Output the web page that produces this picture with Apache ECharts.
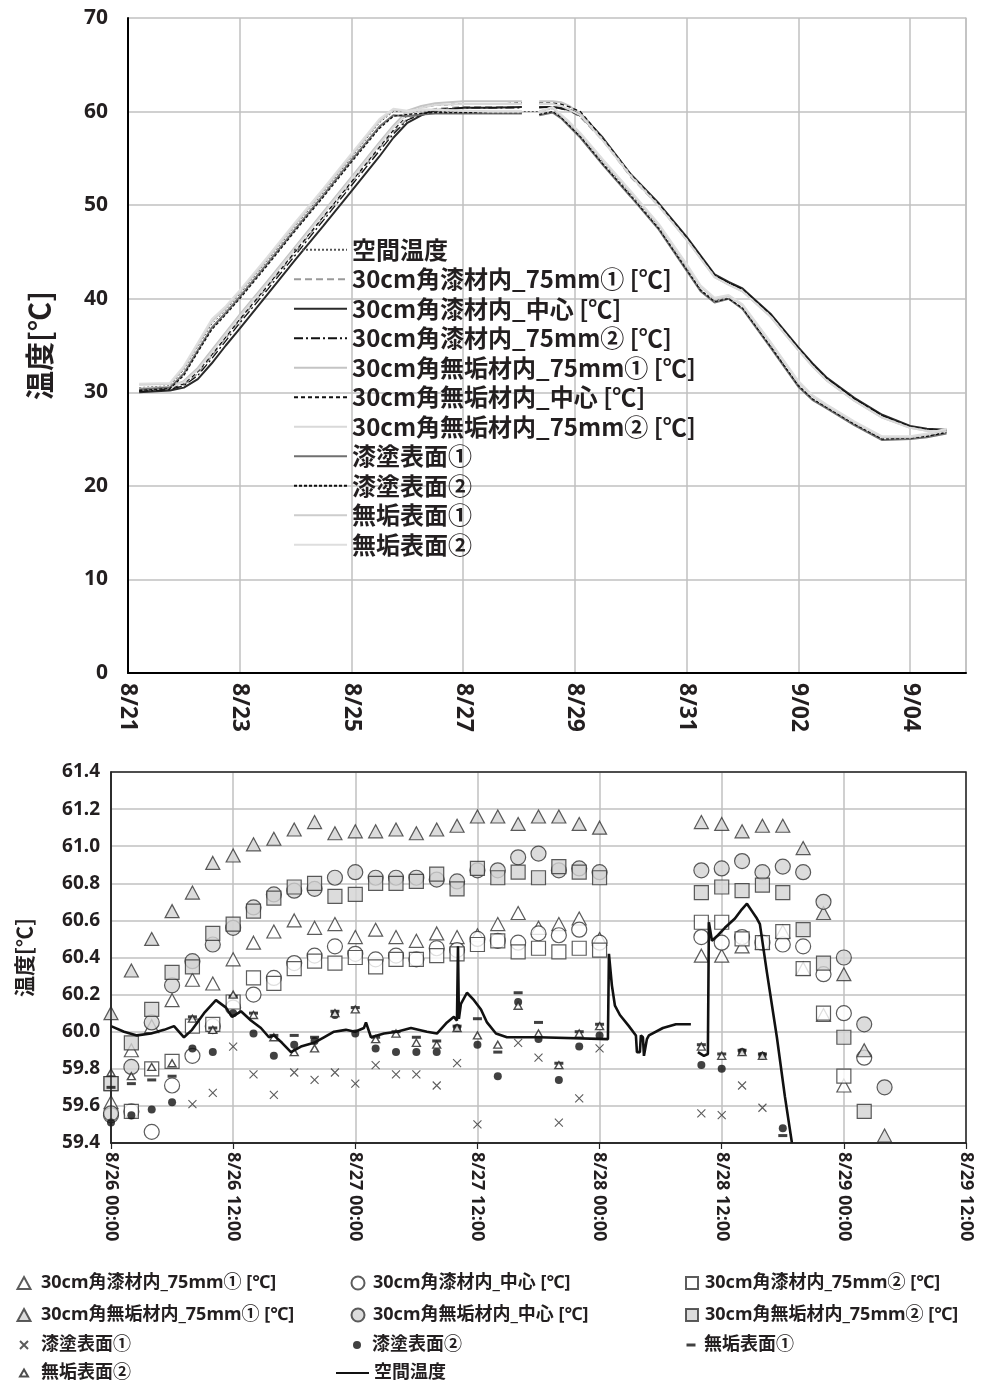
<!DOCTYPE html>
<html><head><meta charset="utf-8">
<script src="https://cdn.jsdelivr.net/npm/echarts/dist/echarts.min.js"></script>
<style>
html,body{margin:0;padding:0;background:#fff;}
#top{position:absolute;left:0;top:0;width:984px;height:750px;}
#bot{position:absolute;left:0;top:750px;width:984px;height:635px;}
</style>
</head><body>
<div id="top"></div><div id="bot"></div>
<script>
// ================= DATA =================
// Top chart: time in days since 8/21 00:00
const TOP_DAYS = [0.2, 0.75, 1.0, 1.25, 1.5, 1.75, 2.0, 2.5, 3.0, 3.5,
  4.0, 4.5, 4.75, 5.0, 5.25, 5.5, 6.0, 6.5, 7.05, 7.2,
  7.36, 7.6, 7.75, 7.9, 8.1, 8.5, 9.0, 9.5, 10.0, 10.25,
  10.5, 10.75, 11.0, 11.5, 12.0, 12.25, 12.5, 13.0, 13.5, 14.0,
  14.3, 14.65];
const TOP_AIR = [30.5, 30.7, 32.4, 34.9, 37.3, 38.8, 40.5, 44.1, 47.8, 51.4,
  55.1, 58.8, 60.0, 60.0, 60.1, 60.0, 60.0, 60.0, 60.0, 60.0,
  60.0, 60.3, 59.4, 58.6, 57.4, 54.6, 51.2, 47.7, 43.3, 41.0,
  39.8, 40.1, 39.0, 35.0, 30.8, 29.3, 28.4, 26.6, 25.0, 25.0,
  25.3, 25.8];
const TOP_URUSHI_75_1 = [30.1, 30.3, 30.8, 32.0, 33.9, 35.8, 37.7, 41.3, 45.0, 48.7,
  52.4, 56.1, 57.8, 59.2, 59.8, 60.3, 60.5, 60.5, 60.5, null,
  60.5, 60.4, 60.3, 60.1, 59.4, 56.9, 53.0, 49.9, 46.3, 44.4,
  42.4, 41.6, 40.9, 38.2, 34.6, 32.9, 31.4, 29.2, 27.4, 26.3,
  26.0, 25.9];
const TOP_URUSHI_C = [30.0, 30.2, 30.5, 31.4, 33.1, 35.0, 36.8, 40.5, 44.2, 47.8,
  51.5, 55.2, 57.2, 58.8, 59.6, 60.1, 60.4, 60.4, 60.5, null,
  60.5, 60.5, 60.4, 60.2, 59.8, 57.2, 53.3, 50.2, 46.6, 44.6,
  42.6, 41.8, 41.1, 38.4, 34.8, 33.1, 31.6, 29.4, 27.6, 26.4,
  26.1, 26.0];
const TOP_URUSHI_75_2 = [30.1, 30.3, 30.7, 31.8, 33.6, 35.5, 37.4, 41.0, 44.7, 48.4,
  52.1, 55.8, 57.6, 59.1, 59.7, 60.2, 60.4, 60.4, 60.4, null,
  60.4, 60.5, 60.3, 60.1, 59.5, 57.0, 53.1, 50.0, 46.4, 44.5,
  42.5, 41.7, 41.0, 38.3, 34.7, 33.0, 31.5, 29.3, 27.5, 26.3,
  26.0, 25.9];
const TOP_MUKU_75_1 = [30.4, 30.6, 31.2, 32.6, 34.5, 36.4, 38.3, 41.9, 45.6, 49.3,
  53.0, 56.7, 58.5, 60.1, 60.6, 60.9, 61.1, 61.1, 61.1, null,
  61.1, 61.1, 61.0, 60.6, 59.8, 57.0, 53.2, 50.0, 46.3, 44.3,
  42.3, 41.5, 40.8, 38.1, 34.5, 32.8, 31.3, 29.1, 27.3, 26.2,
  25.9, 25.8];
const TOP_MUKU_C = [30.2, 30.4, 30.9, 32.2, 34.0, 35.9, 37.8, 41.4, 45.1, 48.8,
  52.5, 56.2, 58.0, 59.6, 60.4, 60.7, 60.8, 60.8, 60.9, null,
  60.9, 60.9, 60.8, 60.5, 60.0, 57.1, 53.3, 50.1, 46.5, 44.5,
  42.5, 41.7, 41.0, 38.3, 34.7, 33.0, 31.5, 29.3, 27.5, 26.3,
  26.0, 25.9];
const TOP_MUKU_75_2 = [30.3, 30.5, 31.1, 32.4, 34.3, 36.2, 38.1, 41.7, 45.4, 49.1,
  52.8, 56.5, 58.3, 59.7, 60.4, 60.7, 60.8, 60.8, 60.8, null,
  60.8, 60.8, 60.6, 60.2, 59.6, 56.9, 53.1, 49.9, 46.3, 44.3,
  42.3, 41.5, 40.8, 38.1, 34.5, 32.8, 31.3, 29.1, 27.3, 26.2,
  25.9, 25.8];
const TOP_URUSHI_SURF_1 = [30.3, 30.5, 32.0, 34.5, 36.9, 38.5, 40.2, 43.8, 47.5, 51.1,
  54.8, 58.4, 59.6, 59.5, 59.7, 59.8, 59.8, 59.8, 59.8, null,
  59.6, 59.9, 59.3, 58.4, 57.2, 54.3, 50.9, 47.4, 43.0, 40.8,
  39.6, 40.0, 38.9, 34.8, 30.6, 29.2, 28.3, 26.5, 24.9, 25.0,
  25.2, 25.6];
const TOP_URUSHI_SURF_2 = [30.2, 30.4, 31.8, 34.3, 36.7, 38.3, 40.0, 43.6, 47.3, 50.9,
  54.6, 58.2, 59.5, 59.7, 59.8, 59.9, 59.9, 59.9, 59.9, null,
  59.7, 60.0, 59.4, 58.5, 57.3, 54.4, 51.0, 47.5, 43.1, 40.9,
  39.7, 40.0, 39.0, 34.9, 30.7, 29.3, 28.4, 26.6, 25.0, 25.1,
  25.3, 25.7];
const TOP_MUKU_SURF_1 = [30.8, 30.9, 32.6, 35.1, 37.6, 39.0, 40.7, 44.3, 48.0, 51.6,
  55.3, 59.0, 60.2, 60.0, 60.2, 60.2, 60.1, 60.0, 60.0, null,
  60.0, 60.4, 59.6, 58.8, 57.6, 54.8, 51.4, 47.9, 43.5, 41.3,
  40.0, 40.3, 39.3, 35.3, 31.1, 29.6, 28.6, 26.8, 25.2, 25.2,
  25.5, 26.0];
const TOP_MUKU_SURF_2 = [30.9, 31.0, 32.8, 35.3, 37.8, 39.2, 40.9, 44.5, 48.2, 51.8,
  55.5, 59.2, 60.3, 60.1, 60.2, 60.2, 60.1, 60.0, 60.0, null,
  60.0, 60.5, 59.7, 58.9, 57.7, 54.9, 51.5, 48.0, 43.7, 41.4,
  40.1, 40.4, 39.4, 35.4, 31.2, 29.7, 28.7, 26.9, 25.3, 25.3,
  25.6, 26.1];
const TOP_Y_TICKS = [0, 10, 20, 30, 40, 50, 60, 70];

// Bottom chart: time in hours since 8/26 00:00, every 2 h
const BOT_HOURS = [0, 2, 4, 6, 8, 10, 12, 14, 16, 18, 20, 22, 24, 26, 28, 30, 32, 34, 36, 38, 40, 42, 44, 46, 48,
  58, 60, 62, 64, 66, 68, 70, 72, 74, 76];
const B_URUSHI_75_1 = [59.62, 59.90, 60.03, 60.17, 60.28, 60.26, 60.39, 60.48, 60.54, 60.60, 60.56, 60.58, 60.51,
  60.55, 60.51, 60.49, 60.53, 60.51, 60.52, 60.58, 60.64, 60.56, 60.58, 60.61, 60.50,
  60.41, 60.41, 60.46, 60.48, 60.54, 60.34, 60.09, 59.71, null, null];
const B_URUSHI_C = [59.55, 59.57, 59.46, 59.71, 59.87, 60.03, 60.13, 60.20, 60.29, 60.37, 60.41, 60.46, 60.42,
  60.39, 60.41, 60.39, 60.45, 60.44, 60.50, 60.49, 60.48, 60.53, 60.52, 60.55, 60.48,
  60.51, 60.48, 60.51, 60.48, 60.47, 60.46, 60.31, 60.10, 59.86, null];
const B_URUSHI_75_2 = [59.72, 59.57, 59.80, 59.84, 60.03, 60.04, 60.16, 60.29, 60.26, 60.34, 60.38, 60.37, 60.40,
  60.35, 60.39, 60.39, 60.41, 60.42, 60.47, 60.49, 60.43, 60.45, 60.43, 60.45, 60.44,
  60.59, 60.59, 60.50, 60.48, 60.54, 60.34, 60.10, 59.76, null, null];
const B_MUKU_75_1 = [60.10, 60.33, 60.50, 60.65, 60.75, 60.91, 60.95, 61.01, 61.04, 61.09, 61.13, 61.07, 61.08,
  61.08, 61.09, 61.07, 61.09, 61.11, 61.16, 61.16, 61.12, 61.16, 61.16, 61.12, 61.10,
  61.13, 61.12, 61.08, 61.11, 61.11, 60.99, 60.64, 60.31, 59.90, 59.44];
const B_MUKU_C = [59.56, 59.81, 60.05, 60.25, 60.38, 60.47, 60.56, 60.67, 60.74, 60.76, 60.77, 60.83, 60.86,
  60.83, 60.83, 60.83, 60.82, 60.81, 60.87, 60.87, 60.94, 60.96, 60.87, 60.88, 60.86,
  60.87, 60.88, 60.92, 60.86, 60.89, 60.86, 60.70, 60.40, 60.04, 59.70];
const B_MUKU_75_2 = [59.72, 59.94, 60.12, 60.32, 60.35, 60.53, 60.58, 60.65, 60.72, 60.78, 60.80, 60.73, 60.74,
  60.80, 60.80, 60.81, 60.85, 60.77, 60.88, 60.83, 60.86, 60.83, 60.89, 60.86, 60.83,
  60.75, 60.78, 60.76, 60.79, 60.75, 60.55, 60.37, 59.97, 59.57, null];
const B_URUSHI_SURF_1 = [null, null, null, null, 59.61, 59.67, 59.92, 59.77, 59.66, 59.78, 59.74, 59.78, 59.72,
  59.82, 59.77, 59.77, 59.71, 59.83, 59.50, null, 59.94, 59.86, 59.51, 59.64, 59.91,
  59.56, 59.55, 59.71, 59.59, null, null, null, null, null, null];
const B_URUSHI_SURF_2 = [59.51, 59.55, 59.58, 59.62, 59.91, 59.89, 60.10, 59.99, 59.87, 59.93, 59.95, 60.09, 59.99,
  59.91, 59.89, 59.89, 59.89, 60.02, 59.93, 59.76, 60.16, 59.96, 59.74, 59.92, 59.98,
  59.82, 59.80, 59.89, 59.87, 59.48, null, null, null, null, null];
const B_MUKU_SURF_1 = [59.70, 59.72, 59.74, 59.76, 60.08, 60.02, 60.19, 60.10, 59.98, 59.98, 59.97, 60.11, 60.13,
  59.97, 60.00, 59.97, 59.95, 60.03, 60.07, 59.89, 60.21, 60.05, 59.83, 60.00, 60.04,
  59.93, 59.88, 59.90, 59.88, 59.44, null, null, null, null, null];
const B_MUKU_SURF_2 = [59.78, 59.76, 59.81, 59.83, 60.07, 60.01, 60.20, 60.09, 59.97, 59.89, 59.91, 60.10, 60.12,
  59.96, 59.99, 59.94, 59.93, 60.02, 59.98, 59.93, 60.14, 59.99, 59.82, 59.99, 60.03,
  59.92, 59.87, 59.89, 59.87, null, null, null, null, null, null];
// Air temperature trace (hours, value); null breaks the line
const B_AIR_HOURS = [0, 1.28, 2.55, 3.93, 5.21, 6.19, 7.17, 7.96, 9.14, 10.31, 11.30, 11.89, 12.77, 13.75, 14.73,
  15.52, 16.01, 16.80, 17.68, 18.66, 19.94, 20.92, 21.91, 23.08, 23.97, 24.85, 25.05, 25.54, 26.82, 28.09,
  29.47, 31.04, 32.02, 33.01, 33.69, 33.99, 34.09, 34.18, 34.38, 34.97, 35.66, 36.35, 36.94, 37.82, 38.90,
  39.88, 40.57, 42.04, 42.14, 48.82, 48.92, 49.21, 49.51, 50.0, 50.88, 51.57, 51.67, 51.96, 52.06, 52.26,
  52.36, 52.55, 52.65, 52.85, 54.22, 55.50, 56.97, 57.3,
  57.66, 58.25, 58.64, 58.74, 59.04, 59.63, 60.31, 61.30, 61.98, 62.48, 62.97, 63.46, 63.75, 64.44, 65.42,
  66.21, 66.40, 66.90];
const B_AIR = [60.03, 60.00, 59.98, 59.99, 60.01, 60.03, 59.97, 60.01, 60.10, 60.17, 60.13, 60.08, 60.11, 60.06, 60.02,
  59.97, 59.98, 59.94, 59.89, 59.92, 59.94, 59.97, 60.00, 60.01, 60.00, 60.02, 60.05, 59.97, 59.99, 60.00,
  60.02, 60.00, 59.99, 60.05, 60.08, 60.06, 60.46, 60.07, 60.15, 60.21, 60.17, 60.12, 60.05, 59.99, 59.97,
  59.97, 59.97, 59.97, 59.96, 59.96, 60.42, 60.25, 60.14, 60.09, 60.03, 59.98, 59.89, 59.89, 59.98, 59.97,
  59.87, 59.87, 59.96, 59.98, 60.02, 60.04, 60.04, null,
  59.89, 59.87, 59.88, 60.59, 60.49, 60.52, 60.56, 60.61, 60.66, 60.69, 60.65, 60.61, 60.58, 60.32, 59.97,
  59.65, 59.64, 59.40];

const NAMES = {
  air: '空間温度',
  u1: '30cm角漆材内_75mm① [℃]', uc: '30cm角漆材内_中心 [℃]', u2: '30cm角漆材内_75mm② [℃]',
  m1: '30cm角無垢材内_75mm① [℃]', mc: '30cm角無垢材内_中心 [℃]', m2: '30cm角無垢材内_75mm② [℃]',
  us1: '漆塗表面①', us2: '漆塗表面②', ms1: '無垢表面①', ms2: '無垢表面②'
};

// ================= STYLE =================
const FONT_CJK = '"Noto Sans CJK JP", "Noto Sans", sans-serif';
const FONT_NUM = '"Noto Sans", "Noto Sans CJK JP", sans-serif';
const TXT = '#231f20';
const GRIDC = '#c0c0c0';

function dayLabel(d) {
  const day = 21 + d;
  return day <= 31 ? '8/' + day : '9/' + String(day - 31).padStart(2, '0');
}
function hourLabel(h) {
  return '8/' + (26 + Math.floor(h / 24)) + ' ' + String(h % 24).padStart(2, '0') + ':00';
}
function pairs(xs, ys) { return xs.map((x, i) => [x, ys[i]]); }

// ================= TOP CHART =================
const topDefs = [
  [NAMES.air, TOP_AIR, { color: '#555', width: 1, type: [2, 2] }],
  [NAMES.u1, TOP_URUSHI_75_1, { color: '#9a9a9a', width: 1.6, type: [7, 4] }],
  [NAMES.uc, TOP_URUSHI_C, { color: '#2a2a2a', width: 2, type: 'solid' }],
  [NAMES.u2, TOP_URUSHI_75_2, { color: '#111', width: 1.3, type: [9, 3, 2, 3] }],
  [NAMES.m1, TOP_MUKU_75_1, { color: '#c4c4c4', width: 2, type: 'solid' }],
  [NAMES.mc, TOP_MUKU_C, { color: '#111', width: 1.3, type: [4, 3] }],
  [NAMES.m2, TOP_MUKU_75_2, { color: '#d9d9d9', width: 2, type: 'solid' }],
  [NAMES.us1, TOP_URUSHI_SURF_1, { color: '#707070', width: 2, type: 'solid' }],
  [NAMES.us2, TOP_URUSHI_SURF_2, { color: '#111', width: 1.3, type: [3, 2] }],
  [NAMES.ms1, TOP_MUKU_SURF_1, { color: '#cdcdcd', width: 2, type: 'solid' }],
  [NAMES.ms2, TOP_MUKU_SURF_2, { color: '#dedede', width: 2, type: 'solid' }]
];

const topChart = echarts.init(document.getElementById('top'), null, { renderer: 'canvas' });
topChart.setOption({
  animation: false,
  backgroundColor: '#fff',
  grid: { left: 128, top: 18, width: 838, height: 655 },
  legend: {
    orient: 'vertical', left: 293, top: 235, itemWidth: 53, itemHeight: 2, itemGap: 0,
    selectedMode: false, padding: 0,
    itemStyle: { opacity: 0 },
    data: topDefs.map(d => d[0]),
    textStyle: { fontFamily: FONT_CJK, fontWeight: 'bold', fontSize: 24, lineHeight: 29.5, color: TXT }
  },
  xAxis: {
    type: 'value', min: 0, max: 15, interval: 2,
    axisLine: { lineStyle: { color: '#000', width: 2 } },
    axisTick: { show: false },
    splitLine: { lineStyle: { color: GRIDC, width: 1.5 } },
    axisLabel: { rotate: -90, margin: 10, formatter: dayLabel, showMaxLabel: false,
      fontFamily: FONT_NUM, fontWeight: 'bold', fontSize: 23, color: TXT }
  },
  yAxis: [{
    type: 'value', min: TOP_Y_TICKS[0], max: TOP_Y_TICKS[TOP_Y_TICKS.length - 1], interval: 10,
    axisLine: { show: true, lineStyle: { color: '#000', width: 2 } },
    axisTick: { show: false },
    splitLine: { lineStyle: { color: GRIDC, width: 1.5 } },
    axisLabel: { margin: 20, fontFamily: FONT_NUM, fontWeight: 'bold', fontSize: 21, color: TXT },
    name: '温度[℃]', nameLocation: 'middle', nameGap: 74, nameRotate: 90,
    nameTextStyle: { fontFamily: FONT_CJK, fontWeight: 'bold', fontSize: 29, color: TXT }
  }, {
    type: 'value', position: 'right', min: 0, max: 70, interval: 10,
    axisLine: { show: true, lineStyle: { color: GRIDC, width: 1.5 } },
    axisTick: { show: false }, axisLabel: { show: false }, splitLine: { show: false }
  }],
  series: topDefs.map(d => ({
    type: 'line', name: d[0], data: pairs(TOP_DAYS, d[1]), yAxisIndex: 0,
    symbol: 'none', showSymbol: false, connectNulls: false,
    lineStyle: d[2], itemStyle: { color: d[2].color }
  }))
});

// ================= BOTTOM CHART =================
const whiteM = { color: '#fff', borderColor: '#333', borderWidth: 1.2 };
const grayM = { color: '#d3d3d3', borderColor: '#333', borderWidth: 1.2 };
const botDefs = [
  [NAMES.u1, B_URUSHI_75_1, 'triangle', [14, 13], whiteM],
  [NAMES.uc, B_URUSHI_C, 'circle', 15, whiteM],
  [NAMES.u2, B_URUSHI_75_2, 'rect', 14, whiteM],
  [NAMES.m1, B_MUKU_75_1, 'triangle', [14, 13], grayM],
  [NAMES.mc, B_MUKU_C, 'circle', 15, grayM],
  [NAMES.m2, B_MUKU_75_2, 'rect', 14, grayM],
  [NAMES.us1, B_URUSHI_SURF_1, 'path://M0,0L10,10M10,0L0,10', 8, { color: '#333', borderColor: '#333', borderWidth: 1.1 }],
  [NAMES.us2, B_URUSHI_SURF_2, 'circle', 8, { color: '#111' }],
  [NAMES.ms1, B_MUKU_SURF_1, 'rect', [9, 3], { color: '#111' }],
  [NAMES.ms2, B_MUKU_SURF_2, 'triangle', [8, 7], { color: '#fff', borderColor: '#222', borderWidth: 1.4 }]
];

const botSeries = botDefs.map(d => ({
  type: 'scatter', name: d[0], symbol: d[2], symbolSize: d[3], itemStyle: d[4],
  data: pairs(BOT_HOURS, d[1]).filter(p => p[1] !== null), clip: true
}));
botSeries.push({
  type: 'line', name: NAMES.air, data: pairs(B_AIR_HOURS, B_AIR), symbol: 'none', showSymbol: false,
  connectNulls: false, clip: true, lineStyle: { color: '#111', width: 2.6 }, itemStyle: { color: '#111' }
});

function leg(name, left, centerY, w, h, pad) {
  return {
    orient: 'vertical', left: left, top: centerY - 11, itemWidth: w, itemHeight: h, itemGap: 0,
    padding: 0, selectedMode: false, data: [name],
    textStyle: { fontFamily: FONT_NUM, fontWeight: 'bold', fontSize: 18, lineHeight: 22, color: TXT,
      padding: [0, 0, 0, pad] }
  };
}
const R = [533, 565, 595, 623];
const botChart = echarts.init(document.getElementById('bot'), null, { renderer: 'canvas' });
botChart.setOption({
  animation: false,
  backgroundColor: '#fff',
  grid: { left: 111, top: 22, width: 855, height: 371, show: true, borderColor: '#222', borderWidth: 1.5, z: 5 },
  legend: [
    leg(NAMES.u1, 16.5, R[0], 13, 12, 5.5),
    leg(NAMES.m1, 16.5, R[1], 13, 12, 5.5),
    leg(NAMES.us1, 19, R[2], 8, 8, 8),
    leg(NAMES.ms2, 19, R[3], 8, 7, 8),
    leg(NAMES.uc, 350.5, R[0], 13, 13, 3.5),
    leg(NAMES.mc, 350.5, R[1], 13, 13, 3.5),
    leg(NAMES.us2, 353, R[2], 8, 8, 6),
    leg(NAMES.air, 335, R[3], 33, 2, 0),
    leg(NAMES.u2, 685, R[0], 12, 12, 2),
    leg(NAMES.m2, 685, R[1], 12, 12, 2),
    leg(NAMES.ms1, 686.5, R[2], 9, 3, 3.5)
  ],
  xAxis: {
    type: 'value', min: 0, max: 84, interval: 12,
    axisLine: { lineStyle: { color: '#222', width: 1.5 } },
    axisTick: { show: true, length: 6, lineStyle: { color: '#222', width: 1.2 } },
    splitLine: { lineStyle: { color: GRIDC, width: 1.5 } },
    axisLabel: { rotate: -90, margin: 9, formatter: hourLabel,
      fontFamily: FONT_NUM, fontWeight: 'bold', fontSize: 18, color: TXT }
  },
  yAxis: {
    type: 'value', min: 59.4, max: 61.4, interval: 0.2,
    axisLine: { show: true, lineStyle: { color: '#222', width: 1.5 } },
    axisTick: { show: false },
    splitLine: { lineStyle: { color: GRIDC, width: 1.5 } },
    axisLabel: { margin: 11, formatter: v => v.toFixed(1),
      fontFamily: FONT_NUM, fontWeight: 'bold', fontSize: 19, color: TXT },
    name: '温度[℃]', nameLocation: 'middle', nameGap: 76, nameRotate: 90,
    nameTextStyle: { fontFamily: FONT_CJK, fontWeight: 'bold', fontSize: 21, color: TXT }
  },
  series: botSeries
});
</script>
</body></html>
